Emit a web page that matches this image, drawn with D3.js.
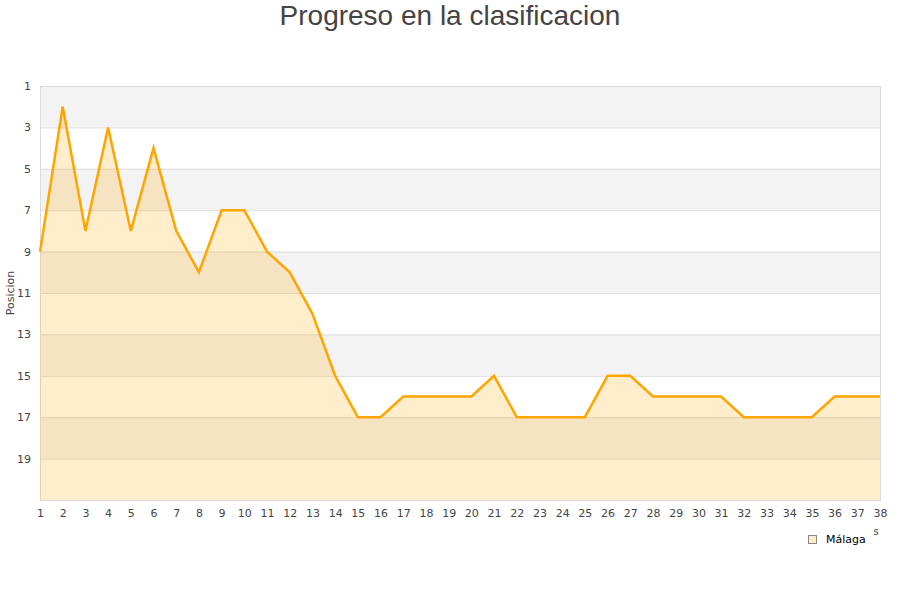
<!DOCTYPE html>
<html><head><meta charset="utf-8">
<script src="https://cdn.jsdelivr.net/npm/d3@7"></script>
<style>body{margin:0;background:#fff}svg{display:block}</style>
</head><body>
<svg id="c" width="900" height="600"></svg>
<script>
const jornadas = d3.range(1, 39);
const posiciones = [9,2,8,3,8,4,8,10,7,7,9,10,12,15,17,17,16,16,16,16,15,17,17,17,17,15,15,16,16,16,16,17,17,17,17,16,16,16];
const yTicks = [1,3,5,7,9,11,13,15,17,19];
const seriesName = "Málaga";
const title = "Progreso en la clasificacion";
const yTitle = "Posicion";

const svg = d3.select("#c");
const m = {l:40, r:880, t:86, b:500};
const x = d3.scaleLinear().domain([1,38]).range([m.l, m.r]);
const y = d3.scaleLinear().domain([1,21]).range([m.t, m.b]);

const bands = d3.range(1, 21, 2);
svg.selectAll("rect.band").data(bands).enter().append("rect")
  .attr("x", m.l).attr("width", m.r - m.l)
  .attr("y", d => y(d)).attr("height", d => y(d+2) - y(d))
  .attr("fill", (d,i) => i % 2 === 0 ? "#f3f3f3" : "#ffffff");

svg.selectAll("line.grid").data(yTicks.slice(1).concat([21])).enter().append("line")
  .attr("x1", m.l).attr("x2", m.r)
  .attr("y1", d => y(d)+0.5).attr("y2", d => y(d)+0.5)
  .attr("stroke", "#dcdcdc").attr("stroke-width", 1);

svg.append("rect").attr("x", m.l+0.5).attr("y", m.t+0.5)
  .attr("width", m.r-m.l).attr("height", m.b-m.t)
  .attr("fill","none").attr("stroke","#dcdcdc");

const data = jornadas.map((j,i) => ({j, p: posiciones[i]}));
svg.append("path").datum(data)
  .attr("d", d3.area().x(d => x(d.j)).y0(m.b).y1(d => y(d.p)))
  .attr("fill", "rgba(255,165,0,0.2)");
svg.append("path").datum(data)
  .attr("d", d3.line().x(d => x(d.j)).y(d => y(d.p)))
  .attr("fill", "none").attr("stroke", "#ffa500").attr("stroke-width", 2.5)
  .attr("stroke-linejoin","miter");

const yAxis = d3.axisLeft(y).tickValues(yTicks).tickSize(0).tickPadding(9);
const gy = svg.append("g").attr("transform", `translate(${m.l},0)`).call(yAxis);
gy.select(".domain").remove();
gy.selectAll("text").attr("font-family","DejaVu Sans").attr("font-size",11).attr("fill","#444");

const xAxis = d3.axisBottom(x).tickValues(jornadas).tickSize(0).tickPadding(9);
const gx = svg.append("g").attr("transform", `translate(0,${m.b})`).call(xAxis);
gx.select(".domain").remove();
gx.selectAll("text").attr("font-family","DejaVu Sans").attr("font-size",11).attr("fill","#444");

svg.append("text").attr("transform","translate(14,293) rotate(-90)")
  .attr("text-anchor","middle").attr("font-family","DejaVu Sans").attr("font-size",11)
  .attr("fill","#444").text(yTitle);

svg.append("text").attr("x",450).attr("y",25).attr("text-anchor","middle")
  .attr("font-family","Liberation Sans, Arial").attr("font-size",28).attr("fill","#444").text(title);

// partially hidden x-axis title fragment
svg.append("text").attr("x",876).attr("y",535).attr("text-anchor","middle")
  .attr("font-family","DejaVu Sans").attr("font-size",10).attr("fill","#444").text("s");

svg.append("rect").attr("x",808.5).attr("y",535.5).attr("width",8).attr("height",8)
  .attr("fill","#ffedcc").attr("stroke","#888");
svg.append("text").attr("x",826).attr("y",543).attr("font-family","DejaVu Sans")
  .attr("font-size",11).attr("fill","#000").text(seriesName);
</script>
</body></html>
